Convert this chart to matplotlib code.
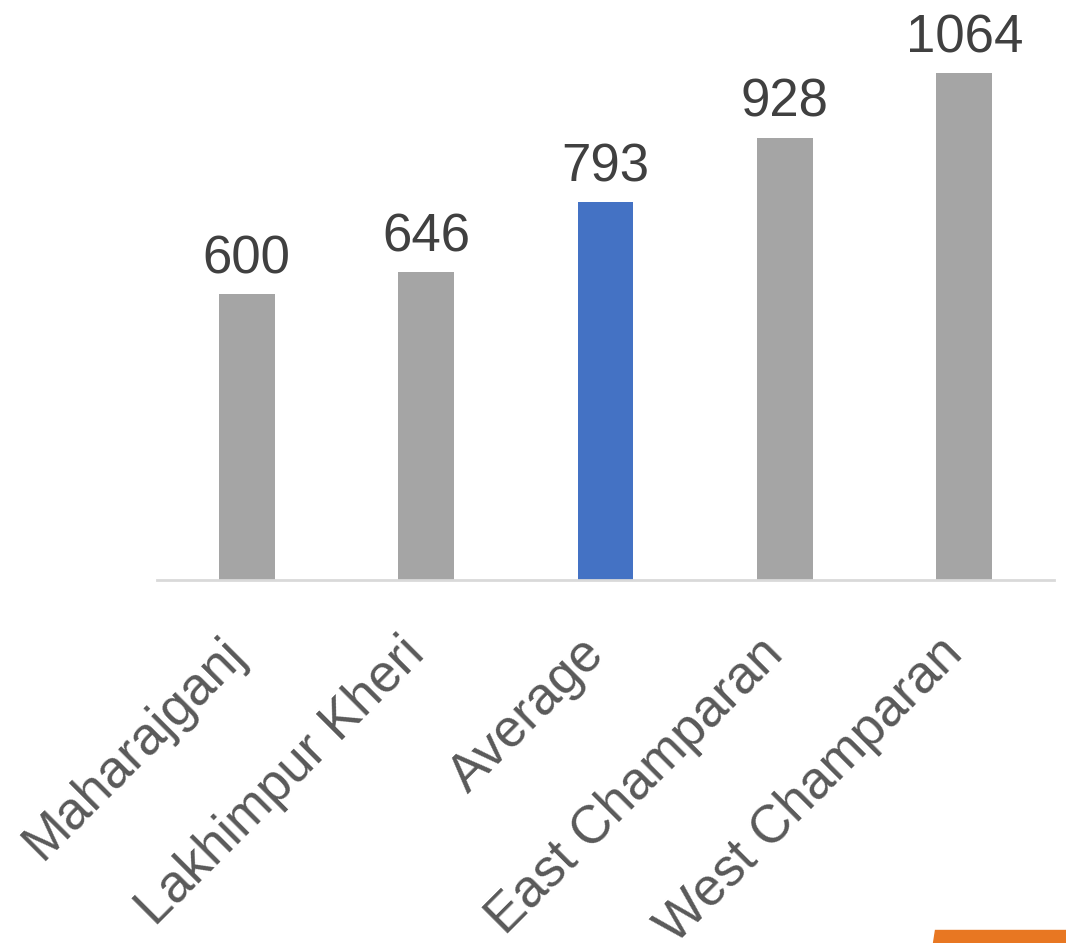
import matplotlib
matplotlib.use("Agg")
import matplotlib.pyplot as plt
from matplotlib.patches import Polygon
from matplotlib.transforms import ScaledTranslation

# District values with the average highlighted
districts = ["Maharajganj", "Lakhimpur Kheri", "Average", "East Champaran", "West Champaran"]
values = [600, 646, 793, 928, 1064]
bar_colors = ["#a5a5a5", "#a5a5a5", "#4472c4", "#a5a5a5", "#a5a5a5"]

plt.rcParams['font.family'] = ['Liberation Sans', 'DejaVu Sans']

fig = plt.figure(figsize=(10.66, 9.43), dpi=100)
ax = fig.add_axes([0.1473, 0.385, 0.8414, 0.615])

x = range(len(districts))
bars = ax.bar(x, values, width=0.31, color=bar_colors)

for b, v in zip(bars, values):
    ax.annotate(str(v), (b.get_x() + b.get_width() / 2, v), xytext=(0, 7),
                textcoords="offset points", ha="center", va="bottom",
                fontsize=38, color="#404040")

ax.set_xlim(-0.5, len(districts) - 0.5)
ax.set_ylim(0, 1217)
ax.set_xticks(list(x))
ax.set_xticklabels(districts, rotation=45, ha="right", rotation_mode="anchor",
                   fontsize=38, color="#595959")
ax.tick_params(axis="x", length=0, pad=22)
# nudge the slanted labels left and down
shift = ScaledTranslation(-0.27, -0.18, fig.dpi_scale_trans)
for lab in ax.get_xticklabels():
    lab.set_transform(lab.get_transform() + shift)
ax.set_yticks([])
for s in ["top", "right", "left"]:
    ax.spines[s].set_visible(False)
ax.spines["bottom"].set_color("#d9d9d9")
ax.spines["bottom"].set_linewidth(2)
ax.patch.set_alpha(0)

# orange accent strip in the bottom-right corner
fig.patches.append(Polygon([[935 / 1066, 13 / 943], [1, 13 / 943], [1, 0], [933 / 1066, 0]],
                           closed=True, transform=fig.transFigure, color="#e87722"))

fig.savefig("out.png", dpi=100)
